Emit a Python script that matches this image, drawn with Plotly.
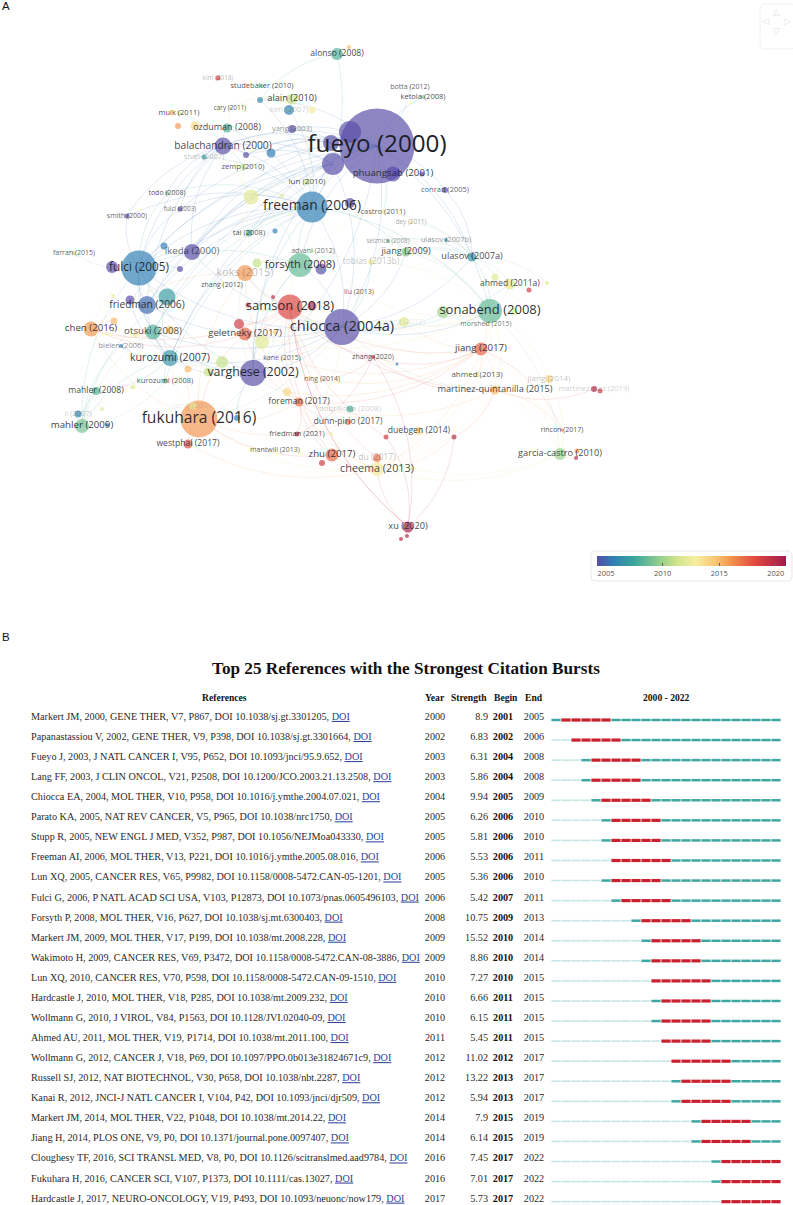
import plotly.graph_objects as go
from plotly.colors import sample_colorscale

# ---------- Panel A: co-citation map ----------
node_id = [
 "alonso","o1","kim18","stude","alain","b1","kim07","y1","cary","muik",
 "o2","y2","ozdu","yang","bala","p1","b2","shah","zemp","fueyo",
 "p2","p3","p4","phuang","p5","conrad","lun","y3","l1","freeman",
 "p6","castro","dey","todo","fulci03","smith","tai","b3","selz","ulb",
 "jiang09","ula","ahmed11","l2","r1","l3","farran","ikeda","b4","fulci05",
 "p7","p8","koks","l4","forsyth","p9","advani","zhang12","tobias","liu",
 "l5","p10","fried06","t1","samson","r2","r3","r4","chiocca","chen",
 "o3","otsuki","y4","l6","bielen","gelet","r5","l7","y5","kuro07",
 "zhang20","b5","kane","g1","o4","g2","varghese","ning","kuro08","l8",
 "mah08","y6","fore","l9","dobr","fuku","g3","li","mah09","b6",
 "b7","dunn","duebgen","r6","fried21","l10","west","mant","zhu","r7",
 "du","cheema","xu","r8","r9","sona","g4","l11","l12","morshed",
 "jiang17","ahmed13","jiang14","mq","md1","md2","rincon","r10","gc","o5",
 "r11","botta","ketola"]
node_label = [
 "alonso (2008)","","kim (2018)","studebaker (2010)","alain (2010)","","kim (2007)","","cary (2011)","muik (2011)",
 "","","ozduman (2008)","yang (2003)","balachandran (2000)","","","shah (2007)","zemp (2010)","fueyo (2000)",
 "","","","phuangsab (2001)","","conrad (2005)","lun (2010)","","","freeman (2006)",
 "","castro (2011)","dey (2011)","todo (2008)","fulci (2003)","smith (2000)","tai (2008)","","selznick (2008)","ulasov (2007b)",
 "jiang (2009)","ulasov (2007a)","ahmed (2011a)","","","","farran (2015)","ikeda (2000)","","fulci (2005)",
 "","","koks (2015)","","forsyth (2008)","","advani (2012)","zhang (2012)","tobias (2013b)","liu (2013)",
 "","","friedman (2006)","","samson (2018)","","","","chiocca (2004a)","chen (2016)",
 "","otsuki (2008)","","","bielen (2006)","geletneky (2017)","","","","kurozumi (2007)",
 "zhang (2020)","","kane (2015)","","","","varghese (2002)","ning (2014)","kurozumi (2008)","",
 "mahler (2008)","","foreman (2017)","","dobrikova (2008)","fukuhara (2016)","yang (2009)","li (2007)","mahler (2009)","",
 "","dunn-pirio (2017)","duebgen (2014)","","friedman (2021)","","westphal (2017)","mantwill (2013)","zhu (2017)","",
 "du (2017)","cheema (2013)","xu (2020)","","","sonabend (2008)","","","wang (2012)","morshed (2015)",
 "jiang (2017)","ahmed (2013)","jiang (2014)","martinez-quintanilla (2015)","martinez-diaz (2019)","","rincon (2017)","","garcia-castro (2010)","",
 "","botta (2012)","ketola (2008)"]
map_x = [
 337,349,218,262,292,260,289,312,230,179,
 178,195,227,292,223,246,271,204,243,377,
 350,331,333,393,422,445,307,251,282,312,
 350,383,411,167,180,127,249,275,388,446,
 406,472,510,495,529,547,74,192,164,139,
 112,180,245,257,300,321,313,222,371,359,
 113,130,147,167,290,273,248,312,342,91,
 114,153,170,135,121,245,239,262,275,170,
 373,397,282,222,188,208,253,322,165,133,
 96,287,299,102,350,199,193,78,82,107,
 237,348,419,386,297,331,188,275,332,322,
 377,377,408,401,407,490,443,514,404,486,
 481,477,549,495,594,600,562,454,560,577,
 576,410,423]
map_y = [
 54,47,78,86,99,100,110,110,108,113,
 126,126,128,129,146,155,153,157,167,146,
 132,143,164,174,174,190,182,197,196,207,
 203,212,222,193,209,216,233,231,241,240,
 252,257,284,277,290,283,253,252,246,268,
 267,269,273,263,265,269,251,285,262,292,
 296,300,305,297,307,297,305,306,327,329,
 321,332,330,335,346,334,324,342,332,358,
 357,364,358,362,369,372,373,379,381,387,
 391,392,402,409,409,419,406,414,426,425,
 418,422,431,437,434,434,444,450,455,463,
 458,469,527,539,536,311,312,312,322,324,
 349,375,379,390,389,391,430,437,454,451,
 458,87,97]
citations = [
 12,4,5,4,11,6,10,7,3,5,
 6,9,9,8,17,6,9,5,6,75,
 22,16,22,15,5,6,6,15,4,31,
 10,5,4,4,5,5,7,5,4,4,
 9,9,11,7,5,4,4,16,7,35,
 12,6,16,9,24,11,3,3,6,3,
 4,9,18,17,25,4,5,9,36,15,
 7,15,9,5,4,13,10,14,5,16,
 4,3,3,12,7,9,26,3,5,5,
 8,8,9,4,7,37,7,7,14,4,
 6,6,8,5,5,4,9,2,13,6,
 8,14,11,4,4,24,12,7,10,3,
 13,5,8,9,6,5,3,5,12,5,
 4,2,4]
avg_year = [
 2008,2015,2019,2010,2011,2006,2006,2013,2011,2012,
 2016,2014,2008,2003,2002,2002,2005.5,2007,2011,2003,
 2003,2003,2003,2003,2003,2003,2011,2012,2012,2005.6,
 2003,2013,2013,2009,2003,2003,2008,2005.5,2009,2006.5,
 2009,2006.5,2012,2012,2019,2012,2015,2003,2005.5,2005.6,
 2003,2003,2016,2011,2008.5,2003,2013,2013,2013,2014,
 2012,2003,2005,2007,2018.5,2020,2019,2020,2003.5,2016,
 2015,2008,2014,2012,2005.5,2017.5,2019,2012,2014,2006.7,
 2020,2005.5,2014,2011,2015,2011,2003,2014,2008,2012,
 2008,2014,2017,2012,2008,2016,2012,2006,2009,2005.5,
 2005.5,2017,2014,2019,2020,2013,2018,2013,2017.5,2019,
 2017,2013,2020.5,2020,2020,2008.5,2010,2012,2012,2015,
 2017.5,2013,2014,2015,2020,2019,2017,2020,2010,2016,
 2020,2012,2009]
label_size = [
 8.6,0,6.4,7.5,9.2,0,8,0,6.4,7.5,
 0,0,9,7.5,10.2,0,0,7.5,7.5,24.2,
 0,0,0,9.7,0,7.5,8,0,0,13.8,
 0,7.5,6.4,7,6.4,7,7.5,0,6.4,7.5,
 9.2,9.2,8.6,0,0,0,7,9.7,0,11.8,
 0,0,10.8,0,11,0,7,7,8.6,7,
 0,0,10.2,0,13,0,0,0,14.6,9.7,
 0,9.7,0,0,7.5,9.7,0,0,0,10.6,
 7,0,7,0,0,0,12.4,7,7.5,0,
 8.6,0,8.6,0,8,15.6,8,7.5,9.7,0,
 0,8.6,8.6,0,7.5,0,8.6,7,9.7,0,
 8.6,10.8,9.2,0,0,13,0,0,7.5,7,
 9.7,8,8,9.2,7.5,0,7,0,9.2,0,
 0,7,7.5]
label_alpha = [
 .85,0,.35,.8,.9,0,.25,0,.8,.85,
 0,0,.85,.5,.85,0,0,.3,.8,1,
 0,0,0,.9,0,.75,.8,0,0,.95,
 0,.75,.45,.8,.7,.75,.8,0,.5,.5,
 .85,.85,.85,0,0,0,.75,.7,0,.95,
 0,0,.3,0,.95,0,.7,.8,.3,.75,
 0,0,.9,0,.95,0,0,0,.95,.9,
 0,.85,0,0,.55,.85,0,0,0,.9,
 .8,0,.75,0,0,0,.95,.75,.8,0,
 .85,0,.85,0,.25,.95,.12,.3,.9,0,
 0,.8,.85,0,.8,0,.85,.75,.9,0,
 .3,.85,.85,0,0,.95,0,0,.12,.65,
 .9,.8,.3,.85,.25,0,.8,0,.85,0,
 0,.75,.85]

citing_links = {
 "fueyo": ["freeman","bala","ketola","botta","conrad","fulci05","chiocca","varghese","forsyth","yang","ikeda","ula","sona","fried06","kuro07","b2","p1","b1","lun","castro","otsuki","fulci03","tai"],
 "p4": ["bala","freeman","fulci05","varghese","chiocca","p1","ikeda","fried06"],
 "p3": ["b2","p1","bala","yang","ikeda"],
 "freeman": ["fulci05","chiocca","bala","forsyth","varghese","b1","alonso","kim07","kuro07","tai","otsuki","ikeda","sona","fulci03","todo","smith","jiang09","shah","ozdu","t1","fried06","p10","kuro08"],
 "fulci05": ["ikeda","fried06","t1","kuro07","chiocca","varghese","bala","fulci03","todo","smith","mah09","chen","p7","p8","farran","otsuki","forsyth"],
 "bala": ["smith","muik","ozdu","shah","p1","b2","zemp","fulci03","fried06","todo","ikeda"],
 "chiocca": ["samson","gelet","sona","jiang17","varghese","forsyth","ula","jiang09","zhang20","fuku","l12","kane","g4","tobias","fried21","ikeda","liu","fried06","kuro07","otsuki","koks","ahmed11","mq"],
 "samson": ["jiang17","zhang20","fore","gelet","mq","sona","xu","r6","r5","r2","l7","du","koks","r4","r3","zhu","ning"],
 "sona": ["jiang09","ula","ahmed11","mq","jiang17","gc","jiang14","g4","ahmed13","morshed","l12","selz","r1","liu","tobias","gelet"],
 "ula": ["jiang09","ulb","selz","ahmed11","conrad","l2","dey","tobias","castro","l3"],
 "fuku": ["varghese","west","kuro07","gelet","zhu","chen","cheema","o4","g2","mant","koks","fore","dunn"],
 "mah09": ["mah08","kuro07","otsuki","li","t1","l9","bielen","l8","kuro08"],
 "kuro07": ["otsuki","mah08","kuro08","bielen","t1","varghese","g1","fried06","p10"],
 "gc": ["rincon","r11","o5","jiang14","mq","cheema","du","jiang17"],
 "xu": ["r8","r9","zhang20","cheema","r6","r10","samson"],
 "cheema": ["r10","zhu","duebgen","du","fore","jiang17","ahmed13","l10","mq","west"],
 "fore": ["ning","kane","y6","fried21","zhu","jiang17","dunn","gelet","l7","koks","mq"],
 "alain": ["b1","y1","kim07","zemp","cary","stude","lun"],
 "varghese": ["forsyth","otsuki","g1","g2","y6","koks","b7","l7","y5","kane"],
 "forsyth": ["koks","l4","advani","zhang12","y3","liu","p9","samson","gelet","tobias","castro","l7"],
 "jiang17": ["mq","ahmed13","morshed","y6","ning","rincon","zhang20","kane","l12"],
 "zhang20": ["b5","fried21","mq","ning"],
 "y3": ["zemp","lun","l1","cary","advani","koks","l4"],
 "alonso": ["o1","b1"],
 "kim18": ["b1"],
 "mq": ["rincon","jiang14","md1","r10","ahmed13"],
 "chen": ["o3","koks","gelet","y4","samson"],
}

colorbar_ticks = [2005, 2010, 2015, 2020]
color_min, color_max = 2004.2, 2020.9
spectral = [[0,"#574ca6"],[.08,"#2f7db5"],[.2,"#3ba79b"],[.32,"#8ccb8e"],[.42,"#cfe48b"],
            [.52,"#f6eea0"],[.62,"#f8c878"],[.7,"#f39a50"],[.84,"#e0483f"],[1,"#a11a4c"]]

# ---------- Panel B: citation bursts ----------
ref_text = [
 "Markert JM, 2000, GENE THER, V7, P867, DOI 10.1038/sj.gt.3301205, ",
 "Papanastassiou V, 2002, GENE THER, V9, P398, DOI 10.1038/sj.gt.3301664, ",
 "Fueyo J, 2003, J NATL CANCER I, V95, P652, DOI 10.1093/jnci/95.9.652, ",
 "Lang FF, 2003, J CLIN ONCOL, V21, P2508, DOI 10.1200/JCO.2003.21.13.2508, ",
 "Chiocca EA, 2004, MOL THER, V10, P958, DOI 10.1016/j.ymthe.2004.07.021, ",
 "Parato KA, 2005, NAT REV CANCER, V5, P965, DOI 10.1038/nrc1750, ",
 "Stupp R, 2005, NEW ENGL J MED, V352, P987, DOI 10.1056/NEJMoa043330, ",
 "Freeman AI, 2006, MOL THER, V13, P221, DOI 10.1016/j.ymthe.2005.08.016, ",
 "Lun XQ, 2005, CANCER RES, V65, P9982, DOI 10.1158/0008-5472.CAN-05-1201, ",
 "Fulci G, 2006, P NATL ACAD SCI USA, V103, P12873, DOI 10.1073/pnas.0605496103, ",
 "Forsyth P, 2008, MOL THER, V16, P627, DOI 10.1038/sj.mt.6300403, ",
 "Markert JM, 2009, MOL THER, V17, P199, DOI 10.1038/mt.2008.228, ",
 "Wakimoto H, 2009, CANCER RES, V69, P3472, DOI 10.1158/0008-5472.CAN-08-3886, ",
 "Lun XQ, 2010, CANCER RES, V70, P598, DOI 10.1158/0008-5472.CAN-09-1510, ",
 "Hardcastle J, 2010, MOL THER, V18, P285, DOI 10.1038/mt.2009.232, ",
 "Wollmann G, 2010, J VIROL, V84, P1563, DOI 10.1128/JVI.02040-09, ",
 "Ahmed AU, 2011, MOL THER, V19, P1714, DOI 10.1038/mt.2011.100, ",
 "Wollmann G, 2012, CANCER J, V18, P69, DOI 10.1097/PPO.0b013e31824671c9, ",
 "Russell SJ, 2012, NAT BIOTECHNOL, V30, P658, DOI 10.1038/nbt.2287, ",
 "Kanai R, 2012, JNCI-J NATL CANCER I, V104, P42, DOI 10.1093/jnci/djr509, ",
 "Markert JM, 2014, MOL THER, V22, P1048, DOI 10.1038/mt.2014.22, ",
 "Jiang H, 2014, PLOS ONE, V9, P0, DOI 10.1371/journal.pone.0097407, ",
 "Cloughesy TF, 2016, SCI TRANSL MED, V8, P0, DOI 10.1126/scitranslmed.aad9784, ",
 "Fukuhara H, 2016, CANCER SCI, V107, P1373, DOI 10.1111/cas.13027, ",
 "Hardcastle J, 2017, NEURO-ONCOLOGY, V19, P493, DOI 10.1093/neuonc/now179, ",
]
ref_year = [2000,2002,2003,2003,2004,2005,2005,2006,2005,2006,2008,2009,2009,2010,2010,2010,2011,2012,2012,2012,2014,2014,2016,2016,2017]
strength = ["8.9","6.83","6.31","5.86","9.94","6.26","5.81","5.53","5.36","5.42","10.75","15.52","8.86","7.27","6.66","6.15","5.45","11.02","13.22","5.94","7.9","6.14","7.45","7.01","5.73"]
begin = [2001,2002,2004,2004,2005,2006,2006,2006,2006,2007,2009,2010,2010,2010,2011,2011,2011,2012,2013,2013,2015,2015,2017,2017,2017]
end = [2005,2006,2008,2008,2009,2010,2010,2011,2010,2011,2013,2014,2014,2015,2015,2015,2015,2017,2017,2017,2019,2019,2022,2022,2022]
first_year, last_year = 2000, 2022

W, H = 793, 1205
SERIF = "Liberation Serif"
SANS = "Open Sans"
rows = list(range(len(ref_text)))

fig = go.Figure()

# links
index = {n: i for i, n in enumerate(node_id)}
centre_x, centre_y = 300, 280
n_bins = 8
bin_x = [[] for _ in range(n_bins)]
bin_y = [[] for _ in range(n_bins)]
for a, targets in citing_links.items():
    for b in targets:
        i, j = index[a], index[b]
        x0, y0, x1, y1 = map_x[i], map_y[i], map_x[j], map_y[j]
        mx, my = (x0 + x1) / 2, (y0 + y1) / 2
        nx, ny = -(y1 - y0) * .2, (x1 - x0) * .2
        if (mx + nx - centre_x) ** 2 + (my + ny - centre_y) ** 2 < (mx - nx - centre_x) ** 2 + (my - ny - centre_y) ** 2:
            nx, ny = -nx, -ny
        cx, cy = mx + nx, my + ny
        yr = (avg_year[i] + avg_year[j]) / 2
        k = min(n_bins - 1, max(0, int((yr - color_min) / (color_max - color_min) * n_bins)))
        for s in range(17):
            t = s / 16
            bin_x[k].append((1 - t) ** 2 * x0 + 2 * t * (1 - t) * cx + t ** 2 * x1)
            bin_y[k].append((1 - t) ** 2 * y0 + 2 * t * (1 - t) * cy + t ** 2 * y1)
        bin_x[k].append(None)
        bin_y[k].append(None)
bin_colors = sample_colorscale(spectral, [(k + .5) / n_bins for k in range(n_bins)], colortype="rgb")
for k in range(n_bins):
    col = bin_colors[k].replace("rgb(", "rgba(").replace(")", ",0.17)")
    fig.add_trace(go.Scatter(x=bin_x[k], y=bin_y[k], mode="lines", hoverinfo="skip",
                             line=dict(color=col, width=0.9), showlegend=False))

# nodes
fig.add_trace(go.Scatter(
    x=map_x, y=map_y, mode="markers", showlegend=False, text=node_label, hoverinfo="text",
    marker=dict(size=citations, sizemode="diameter", color=avg_year, colorscale=spectral,
                cmin=color_min, cmax=color_max, opacity=0.68, line=dict(width=0),
                colorbar=dict(orientation="h", x=597 / W, xanchor="left", y=1 - 581 / H, yanchor="bottom",
                              len=189, lenmode="pixels", thickness=10, thicknessmode="pixels", xpad=0, ypad=0,
                              outlinewidth=0, tickvals=colorbar_ticks, ticks="inside", ticklen=3, tickcolor="#666",
                              tickfont=dict(family=SANS, size=7.5, color="#555")))))
# node labels
fig.add_trace(go.Scatter(
    x=map_x, y=map_y, mode="text", showlegend=False, hoverinfo="skip", text=node_label,
    textposition="middle center",
    textfont=dict(family=SANS, size=[s if s else 6 for s in label_size],
                  color=[f"rgba(30,30,40,{a})" for a in label_alpha])))

# table text (row positions on the row axis)
def table_text(xs, texts, pos, size=10.2, color="#2a2a2a"):
    ys = [r - 0.13 for r in rows]
    fig.add_trace(go.Scatter(x=xs, y=ys, xaxis="x", yaxis="y2", mode="text", text=texts, textposition=pos,
                             hoverinfo="skip", showlegend=False,
                             textfont=dict(family=SERIF, size=size, color=color)))

doi_link = '<a href="https://doi.org" style="color:#2b3f96"><u>DOI</u></a>'
table_text([31] * 25, [t + doi_link for t in ref_text], "middle right")
table_text([435] * 25, [str(v) for v in ref_year], "middle center")
table_text([488] * 25, strength, "middle left")
table_text([503] * 25, [f"<b>{v}</b>" for v in begin], "middle center", color="#111")
table_text([534] * 25, [str(v) for v in end], "middle center")

# burst timelines, drawn one yearly dash at a time
light_x, light_y, teal_x, teal_y, red_x, red_y = [], [], [], [], [], []
for r in rows:
    for yr in range(first_year, last_year + 1):
        if yr < ref_year[r]:
            tx, ty = light_x, light_y
        elif begin[r] <= yr <= end[r]:
            tx, ty = red_x, red_y
        else:
            tx, ty = teal_x, teal_y
        tx += [yr + .04, yr + .96, None]
        ty += [r, r, None]
fig.add_trace(go.Scatter(x=light_x, y=light_y, xaxis="x2", yaxis="y2", mode="lines", hoverinfo="skip",
                         showlegend=False, line=dict(color="#c6e6e6", width=1.6)))
fig.add_trace(go.Scatter(x=teal_x, y=teal_y, xaxis="x2", yaxis="y2", mode="lines", hoverinfo="skip",
                         showlegend=False, line=dict(color="#3fa7a3", width=2.5)))
fig.add_trace(go.Scatter(x=red_x, y=red_y, xaxis="x2", yaxis="y2", mode="lines", hoverinfo="skip",
                         showlegend=False, line=dict(color="#c9202f", width=3.2)))

def note(x, y, text, size, family=SERIF, color="#111", anchor="center"):
    fig.add_annotation(x=x, y=y, xref="x", yref="y", text=text, showarrow=False, xanchor=anchor, yanchor="middle",
                       font=dict(family=family, size=size, color=color))

note(406, 668, "<b>Top 25 References with the Strongest Citation Bursts</b>", 17.2)
for x_, t_ in zip([224, 435, 469, 506, 534, 666],
                  ["References", "Year", "Strength", "Begin", "End", f"{first_year} - {last_year}"]):
    note(x_, 697, f"<b>{t_}</b>", 9.6)
note(0, 6, "A", 11.5, family="Liberation Sans", anchor="left")
note(0, 637, "B", 11.5, family="Liberation Sans", anchor="left")

def rounded(x0, y0, x1, y1, r):
    return (f"M{x0+r},{y0} L{x1-r},{y0} Q{x1},{y0} {x1},{y0+r} L{x1},{y1-r} Q{x1},{y1} {x1-r},{y1} "
            f"L{x0+r},{y1} Q{x0},{y1} {x0},{y1-r} L{x0},{y0+r} Q{x0},{y0} {x0+r},{y0} Z")

shapes = [
    dict(type="path", path=rounded(591, 551, 792, 581, 5), xref="x", yref="y", layer="below",
         line=dict(color="rgba(205,205,205,0.6)", width=0.8), fillcolor="rgba(255,255,255,0)"),
    dict(type="path", path=rounded(760, 4, 795, 49, 5), xref="x", yref="y", layer="below",
         line=dict(color="rgba(205,205,205,0.35)", width=0.8), fillcolor="rgba(255,255,255,0)"),
]
for x_, y_, t_ in [(776, 12, "△"), (776, 31, "▽"), (765, 21, "◁"), (787, 21, "▷")]:
    note(x_, y_, t_, 9, family="DejaVu Sans", color="rgba(190,190,190,0.5)")

px_per_year = 10
row_top = (0 - 720) / 20.07
row_bottom = (H - 720) / 20.07
fig.update_layout(
    width=W, height=H, autosize=False, margin=dict(l=0, r=0, t=0, b=0),
    paper_bgcolor="white", plot_bgcolor="white", showlegend=False, shapes=shapes,
    xaxis=dict(range=[0, W], domain=[0, 1], visible=False, fixedrange=True),
    yaxis=dict(range=[H, 0], domain=[0, 1], visible=False, fixedrange=True),
    xaxis2=dict(range=[first_year - 551 / px_per_year, first_year + (W - 551) / px_per_year],
                visible=False, overlaying="x", anchor="y2", fixedrange=True),
    yaxis2=dict(range=[row_bottom, row_top], domain=[0, 1], visible=False, overlaying="y", anchor="x",
                fixedrange=True),
)
fig.write_html("out.html", config={"displayModeBar": False},
               post_script="document.documentElement.style.margin='0';document.body.style.margin='0';")
